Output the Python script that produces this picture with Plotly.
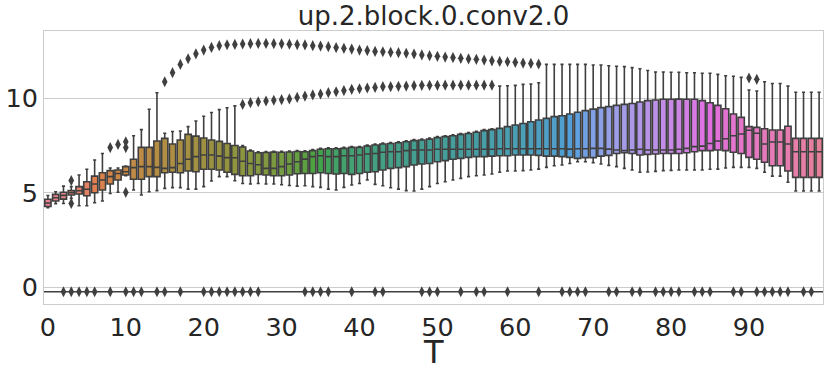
import colorsys
import math
import plotly.graph_objects as go

# one box per diffusion step T
T = list(range(100))

whisker_low = [4.20, 4.42, 4.43, 4.70, 4.31, 4.31, 4.47, 4.56, 4.96, 5.02,
               5.90, 5.14, 4.88, 5.05, 5.11, 5.23, 5.27, 5.27, 5.19, 5.19,
               5.32, 5.62, 5.85, 5.85, 5.63, 5.49, 5.46, 5.49, 5.46, 5.46,
               5.42, 5.38, 5.35, 5.37, 5.32, 5.28, 5.19, 5.14, 5.28, 5.41,
               5.49, 5.67, 5.44, 5.37, 5.26, 5.19, 5.11, 5.09, 5.19, 5.32,
               5.49, 5.58, 5.67, 5.76, 5.85, 5.90, 5.94, 5.99, 6.08, 6.15,
               6.15, 6.17, 6.20, 6.25, 6.34, 6.43, 6.47, 6.55, 6.64, 6.64,
               6.59, 6.52, 6.45, 6.38, 6.29, 6.20, 6.08, 6.10, 6.13, 6.17,
               6.18, 6.20, 6.20, 6.20, 6.20, 6.24, 6.25, 6.31, 6.34, 6.34,
               6.34, 6.29, 6.08, 5.88, 5.88, 5.55, 5.09, 5.09, 5.09, 5.09]

q1 = [4.27, 4.56, 4.66, 4.88, 4.93, 4.84, 5.00, 5.14, 5.46, 5.67,
      5.94, 5.71, 5.71, 5.85, 5.85, 6.06, 6.08, 6.06, 6.15, 6.11,
      6.24, 6.24, 6.20, 6.08, 5.97, 5.90, 5.90, 5.96, 5.94, 5.90,
      5.90, 5.94, 6.00, 6.02, 6.02, 6.06, 6.02, 5.99, 6.02, 5.97,
      6.02, 6.08, 6.11, 6.20, 6.29, 6.33, 6.38, 6.47, 6.52, 6.55,
      6.64, 6.70, 6.77, 6.82, 6.87, 6.91, 6.91, 6.94, 6.96, 6.96,
      7.00, 7.00, 7.00, 6.98, 6.94, 6.94, 6.91, 6.87, 6.82, 6.86,
      6.86, 6.94, 6.98, 7.08, 7.12, 7.08, 7.00, 7.03, 7.05, 7.08,
      7.08, 7.08, 7.12, 7.17, 7.23, 7.23, 7.26, 7.23, 7.14, 7.08,
      6.87, 6.77, 6.61, 6.43, 6.43, 6.15, 5.81, 5.81, 5.81, 5.81]

median = [4.45, 4.73, 4.86, 5.00, 5.10, 5.18, 5.46, 5.67, 5.85, 6.02,
          6.11, 6.33, 6.38, 6.38, 6.34, 6.29, 6.33, 6.55, 6.77, 6.91,
          7.00, 7.00, 6.94, 6.86, 6.85, 6.67, 6.55, 6.48, 6.29, 6.29,
          6.38, 6.52, 6.64, 6.78, 6.91, 6.96, 6.91, 6.91, 6.96, 6.96,
          7.00, 7.05, 7.08, 7.14, 7.17, 7.17, 7.23, 7.26, 7.26, 7.26,
          7.30, 7.30, 7.30, 7.30, 7.30, 7.30, 7.30, 7.30, 7.33, 7.33,
          7.33, 7.33, 7.33, 7.33, 7.33, 7.33, 7.33, 7.31, 7.33, 7.33,
          7.35, 7.35, 7.31, 7.26, 7.23, 7.26, 7.30, 7.26, 7.26, 7.26,
          7.26, 7.30, 7.35, 7.44, 7.47, 7.61, 7.74, 7.86, 8.02, 8.11,
          8.31, 8.15, 7.58, 7.69, 7.69, 7.58, 7.17, 7.17, 7.17, 7.17]

q3 = [4.65, 4.91, 5.02, 5.11, 5.32, 5.58, 5.88, 6.06, 6.17, 6.20,
      6.38, 6.77, 7.40, 7.40, 7.74, 7.88, 7.58, 7.79, 8.09, 8.00,
      7.90, 7.79, 7.72, 7.61, 7.50, 7.42, 7.21, 7.12, 7.13, 7.15,
      7.14, 7.16, 7.18, 7.17, 7.23, 7.30, 7.33, 7.33, 7.35, 7.40,
      7.40, 7.47, 7.53, 7.58, 7.61, 7.65, 7.70, 7.76, 7.79, 7.84,
      7.92, 7.97, 8.02, 8.09, 8.14, 8.20, 8.29, 8.34, 8.41, 8.50,
      8.59, 8.67, 8.76, 8.85, 8.94, 9.03, 9.08, 9.17, 9.26, 9.35,
      9.43, 9.51, 9.56, 9.63, 9.68, 9.73, 9.81, 9.88, 9.91, 9.95,
      9.95, 9.96, 9.95, 9.95, 9.88, 9.77, 9.63, 9.45, 9.17, 8.99,
      8.50, 8.46, 8.39, 8.32, 8.32, 8.52, 7.88, 7.88, 7.88, 7.88]

whisker_high = [4.85, 5.05, 5.35, 5.32, 5.94, 6.24, 6.73, 7.08, 6.31, 6.31,
                6.41, 8.02, 8.34, 9.42, 10.30, 8.15, 8.24, 8.27, 8.50, 8.80,
                9.05, 9.25, 9.40, 9.50, 9.60, 7.50, 7.26, 7.17, 7.18, 7.20,
                7.19, 7.21, 7.23, 7.22, 7.28, 7.35, 7.38, 7.38, 7.40, 7.45,
                7.45, 7.52, 7.58, 7.63, 7.66, 7.70, 7.75, 7.81, 7.84, 7.89,
                7.97, 8.02, 8.07, 8.14, 8.19, 8.25, 8.34, 8.39, 10.65, 10.67,
                10.69, 10.74, 10.76, 10.83, 11.80, 11.80, 11.80, 11.80, 11.80, 11.80,
                11.77, 11.77, 11.73, 11.70, 11.68, 11.63, 11.57, 11.48, 11.40, 11.40,
                11.38, 11.38, 11.36, 11.36, 11.33, 11.33, 11.27, 11.20, 11.17, 11.11,
                10.44, 10.39, 10.88, 10.79, 10.79, 10.65, 10.32, 10.32, 10.32, 10.32]

# outliers (fliers)
upper_arc_T = list(range(15, 64))
upper_arc = [10.88, 11.36, 11.80, 12.10, 12.36, 12.56, 12.70, 12.79, 12.84, 12.86,
             12.88, 12.90, 12.91, 12.91, 12.90, 12.89, 12.87, 12.85, 12.83, 12.79,
             12.77, 12.74, 12.69, 12.65, 12.61, 12.56, 12.53, 12.49, 12.47, 12.44,
             12.42, 12.39, 12.35, 12.30, 12.26, 12.23, 12.19, 12.16, 12.12, 12.09,
             12.07, 12.03, 11.99, 11.96, 11.94, 11.91, 11.87, 11.85, 11.82]
lower_arc_T = list(range(25, 58))
lower_arc = [9.68, 9.77, 9.82, 9.86, 9.90, 9.93, 9.97, 10.05, 10.12, 10.18,
             10.23, 10.30, 10.35, 10.41, 10.48, 10.51, 10.55, 10.58, 10.62, 10.62,
             10.64, 10.65, 10.67, 10.69, 10.69, 10.69, 10.70, 10.70, 10.70, 10.70,
             10.70, 10.70, 10.70]
extra_T = [3, 3, 8, 9, 10, 10, 10, 90, 91]
extra_vals = [5.64, 4.43, 7.39, 7.56, 7.70, 7.39, 5.02, 11.08, 11.01]
floor_value = -0.25
floor_T = [2, 3, 4, 5, 6, 8, 10, 11, 12, 14, 15, 17, 20, 21, 22, 23, 24, 25, 26, 27,
           33, 34, 35, 36, 39, 42, 43, 48, 49, 50, 53, 55, 56, 59, 63, 66, 67, 68, 69,
           72, 73, 75, 76, 78, 79, 80, 81, 83, 84, 85, 88, 89, 91, 92, 93, 94, 95, 97, 98]

# seaborn-like husl palette, desaturated as boxplot does
M = [[3.2406, -1.5372, -0.4986], [-0.9689, 1.8758, 0.0415], [0.0557, -0.2040, 1.0570]]


def max_chroma(L, H):
    hr = math.radians(H)
    sh, ch = math.sin(hr), math.cos(hr)
    sub1 = (L + 16) ** 3 / 1560896.0
    sub2 = sub1 if sub1 > 0.008856 else L / 903.3
    best = float("inf")
    for m1, m2, m3 in M:
        top = (0.99915 * m1 + 1.05122 * m2 + 1.14460 * m3) * sub2
        rb = 0.86330 * m3 - 0.17266 * m2
        lb = 0.12949 * m3 - 0.38848 * m1
        bottom = (rb * sh + lb * ch) * sub2
        for t in (0.0, 1.0):
            C = L * (top - 1.05122 * t) / (bottom + 0.17266 * sh * t)
            if 0 < C < best:
                best = C
    return best


def husl_to_rgb(H, S, L):
    C = max_chroma(L, H) / 100.0 * S
    U, V = math.cos(math.radians(H)) * C, math.sin(math.radians(H)) * C
    t = (L + 16) / 116.0
    Y = t ** 3 if t ** 3 > 0.008856 else (116 * t - 16) / 903.3
    u = U / (13 * L) + 0.19784
    v = V / (13 * L) + 0.46834
    X = -(9 * Y * u) / ((u - 4) * v - u * v)
    Z = (9 * Y - 15 * v * Y - v * X) / (3 * v)
    out = []
    for row in M:
        c = row[0] * X + row[1] * Y + row[2] * Z
        c = 12.92 * c if c <= 0.0031308 else 1.055 * c ** (1 / 2.4) - 0.055
        out.append(min(max(c, 0), 1))
    return out


colors_rgb = []
for i in range(len(T)):
    h = ((i / len(T)) + 0.01) % 1 * 359
    r, g, b = husl_to_rgb(h, 0.9 * 99, 0.65 * 99)
    hh, ll, ss = colorsys.rgb_to_hls(r, g, b)
    colors_rgb.append(colorsys.hls_to_rgb(hh, ll, ss * 0.75))
lum = min(colorsys.rgb_to_hls(*c)[1] for c in colors_rgb) * 0.6
gray = "rgb({0},{0},{0})".format(round(lum * 255))


def to_css(c):
    return "rgb({},{},{})".format(*[round(x * 255) for x in c])


fig = go.Figure()

for i, t in enumerate(T):
    fig.add_trace(go.Box(
        x=[t], q1=[q1[i]], median=[median[i]], q3=[q3[i]],
        lowerfence=[whisker_low[i]], upperfence=[whisker_high[i]],
        width=0.8, whiskerwidth=0.5, boxpoints=False,
        fillcolor=to_css(colors_rgb[i]), line=dict(color=gray, width=1.6),
        hoverinfo="skip"
    ))

flier_x = upper_arc_T + lower_arc_T + extra_T + floor_T
flier_y = upper_arc + lower_arc + extra_vals + [floor_value] * len(floor_T)
fig.add_trace(go.Scatter(
    x=flier_x, y=flier_y, mode="markers",
    marker=dict(symbol="diamond-tall", size=8, color=gray),
    hoverinfo="skip"
))

# horizontal rule through the floor outliers
fig.add_shape(type="line", xref="paper", x0=0, x1=1, yref="y",
              y0=floor_value, y1=floor_value, line=dict(color=gray, width=1.5),
              layer="below")

# axis title as an annotation so it is not clipped
fig.add_annotation(text="T", xref="paper", x=0.5, yref="paper", y=-0.176,
                   yanchor="middle", showarrow=False, font=dict(size=32))

fig.update_layout(
    width=831, height=377,
    margin=dict(l=44, r=8, t=31, b=73),
    plot_bgcolor="white", paper_bgcolor="white",
    showlegend=False,
    font=dict(family="DejaVu Sans", color="#262626"),
    title=dict(text="up.2.block.0.conv2.0", x=0.5, xref="paper", xanchor="center",
               y=0.957, yanchor="middle", font=dict(size=26)),
)
fig.update_xaxes(range=[-0.5, 99.5], tickvals=list(range(0, 100, 10)),
                 showgrid=False, zeroline=False, showline=True, mirror=True,
                 linecolor="#cccccc", linewidth=1, ticks="", automargin=False,
                 tickfont=dict(size=25.5))
fig.update_yaxes(range=[-0.9, 13.57], tickvals=[0, 5, 10],
                 showgrid=True, gridcolor="#cccccc", gridwidth=1, zeroline=False,
                 showline=True, mirror=True, linecolor="#cccccc", linewidth=1,
                 ticks="", automargin=False, tickfont=dict(size=25.5))

# the page's default body margin would shift the figure by 8px
fig.write_html("out.html", config={"displayModeBar": False},
               post_script="document.body.style.margin='0px';")
